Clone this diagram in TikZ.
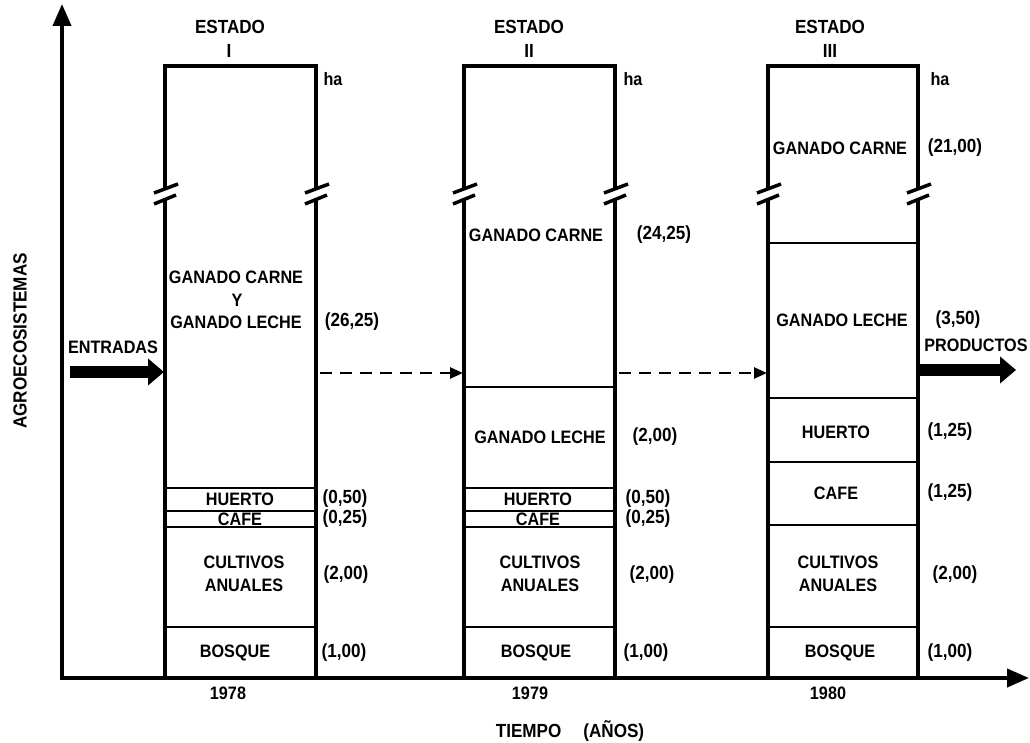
\documentclass[tikz,border=0pt]{standalone}
\usepackage{fontspec}
\setmainfont[FakeStretch=0.9]{Liberation Sans}
\usetikzlibrary{arrows.meta}
\newcommand{\stagecol}[2]{%
  \draw[box] (#1,188) -- (#1,66) -- (#2,66) -- (#2,188);
  \draw[box] (#1,198) -- (#1,678);
  \draw[box] (#2,198) -- (#2,678);
  \draw[slash] ({#1-11},193) -- ({#1+13},184);
  \draw[slash] ({#1-11},204) -- ({#1+11},195);
  \draw[slash] ({#2-11},193) -- ({#2+13},184);
  \draw[slash] ({#2-11},204) -- ({#2+11},195);
}
\begin{document}
\begin{tikzpicture}[x=1pt,y=-1pt,
  lbl/.style={font=\fontsize{18}{19}\selectfont\bfseries, inner sep=0pt},
  num/.style={font=\fontsize{19}{20}\selectfont\bfseries, inner sep=0pt},
  big/.style={font=\fontsize{19}{20}\selectfont\bfseries, inner sep=0pt},
  box/.style={line width=3.5pt},
  slash/.style={line width=3.5pt},
  div/.style={line width=2.2pt},
  axis/.style={line width=4pt, -{Triangle[length=22pt,width=18pt]}},
  fat/.style={line width=12pt, -{Triangle[length=16pt,width=26pt]}},
  flow/.style={line width=2.5pt, dash pattern=on 12pt off 8pt, -{Triangle[length=13pt,width=11pt]}}]
\useasboundingbox (0,0) rectangle (1030,743);
% axes
\coordinate (o) at (62,678);
\coordinate (ytop) at (62,4);
\coordinate (xend) at (1029,678);
\draw[axis] ([yshift=2pt]o) -- (ytop);
\draw[axis] ([xshift=-2pt]o) -- (xend);
% columns
\stagecol{165}{316}
\stagecol{464}{615}
\stagecol{768}{918}
% dividers column I
\draw[div] (165,488) -- (316,488);
\draw[div] (165,511) -- (316,511);
\draw[div] (165,527) -- (316,527);
\draw[div] (165,627) -- (316,627);
% dividers column II
\draw[div] (464,387) -- (615,387);
\draw[div] (464,488) -- (615,488);
\draw[div] (464,511) -- (615,511);
\draw[div] (464,527) -- (615,527);
\draw[div] (464,627) -- (615,627);
% dividers column III
\draw[div] (768,243) -- (918,243);
\draw[div] (768,398) -- (918,398);
\draw[div] (768,462) -- (918,462);
\draw[div] (768,525) -- (918,525);
\draw[div] (768,627) -- (918,627);
% headers
\node[big] (e1) at (230,27) {ESTADO};
\node[big] (r1) at (229,51) {I};
\node[big] (e2) at (529,27) {ESTADO};
\node[big] (r2) at (529,51) {II};
\node[big] (e3) at (830,27) {ESTADO};
\node[big] (r3) at (830,51) {III};
\node[lbl] (ha1) at (333,79) {ha};
\node[lbl] (ha2) at (633,79) {ha};
\node[lbl] (ha3) at (940,79) {ha};
% column I labels
\node[lbl] (c1a) at (236,277) {GANADO CARNE};
\node[lbl] (c1y) at (237,300) {Y};
\node[lbl] (c1b) at (236,322) {GANADO LECHE};
\node[num] (v1a) at (352,322) {(26,25)};
\node[lbl] (c1h) at (240,499) {HUERTO};
\node[num] (v1h) at (345,499) {(0,50)};
\node[lbl] (c1c) at (240,519) {CAFE};
\node[num] (v1c) at (345,519) {(0,25)};
\node[lbl] (c1k) at (244,562) {CULTIVOS};
\node[lbl] (c1n) at (244,585) {ANUALES};
\node[num] (v1k) at (346,575) {(2,00)};
\node[lbl] (c1b2) at (235,653) {BOSQUE};
\node[num] (v1b) at (344,653) {(1,00)};
% column II labels
\node[lbl] (c2a) at (536,235) {GANADO CARNE};
\node[num] (v2a) at (664,235) {(24,25)};
\node[lbl] (c2b) at (540,437) {GANADO LECHE};
\node[num] (v2b) at (655,437) {(2,00)};
\node[lbl] (c2h) at (538,499) {HUERTO};
\node[num] (v2h) at (648,499) {(0,50)};
\node[lbl] (c2c) at (538,519) {CAFE};
\node[num] (v2c) at (648,519) {(0,25)};
\node[lbl] (c2k) at (540,562) {CULTIVOS};
\node[lbl] (c2n) at (540,585) {ANUALES};
\node[num] (v2k) at (652,575) {(2,00)};
\node[lbl] (c2b2) at (536,653) {BOSQUE};
\node[num] (v2b2) at (646,653) {(1,00)};
% column III labels
\node[lbl] (c3a) at (840,148) {GANADO CARNE};
\node[num] (v3a) at (955,148) {(21,00)};
\node[lbl] (c3b) at (842,320) {GANADO LECHE};
\node[num] (v3b) at (958,320) {(3,50)};
\node[lbl] (c3h) at (836,432) {HUERTO};
\node[num] (v3h) at (950,432) {(1,25)};
\node[lbl] (c3c) at (836,493) {CAFE};
\node[num] (v3c) at (950,493) {(1,25)};
\node[lbl] (c3k) at (838,562) {CULTIVOS};
\node[lbl] (c3n) at (838,585) {ANUALES};
\node[num] (v3k) at (955,575) {(2,00)};
\node[lbl] (c3b2) at (840,653) {BOSQUE};
\node[num] (v3b2) at (950,653) {(1,00)};
% years
\node[lbl] (y1) at (228,693) {1978};
\node[lbl] (y2) at (530,693) {1979};
\node[lbl] (y3) at (828,693) {1980};
\node[big] (tt) at (570,731) {TIEMPO\hspace{22pt}(AÑOS)};
\node[big, rotate=90] (ag) at (20,341) {AGROECOSISTEMAS};
% flows
\node[lbl] (ent) at (113,347) {ENTRADAS};
\node[lbl] (prod) at (976,345) {PRODUCTOS};
\coordinate (ina) at (70,372);
\coordinate (inb) at (164,372);
\coordinate (outa) at (920,370);
\coordinate (outb) at (1016,370);
\draw[fat] (ina) -- (inb);
\draw[fat] (outa) -- (outb);
\coordinate (d1a) at (320,373);
\coordinate (d1b) at (463,373);
\coordinate (d2a) at (619,373);
\coordinate (d2b) at (767,373);
\draw[flow] (d1a) -- (d1b);
\draw[flow] (d2a) -- (d2b);
\end{tikzpicture}
\end{document}
